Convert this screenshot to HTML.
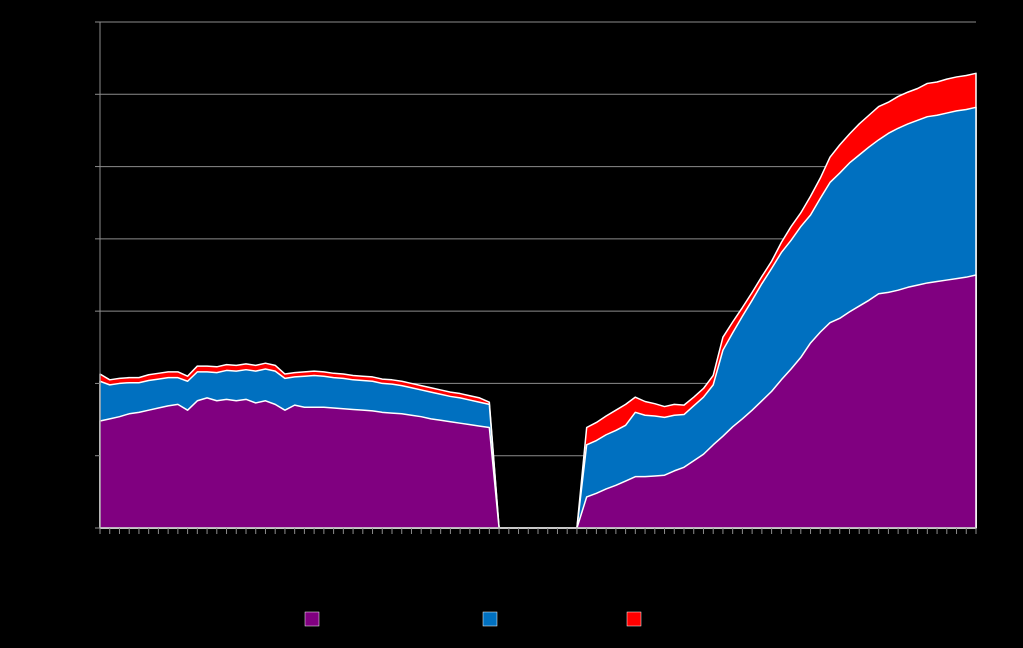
<!DOCTYPE html>
<html><head><meta charset="utf-8"><style>
html,body{margin:0;padding:0;background:#000;}
svg{display:block;font-family:"Liberation Sans",sans-serif;}
</style></head><body>
<svg id="chart" width="1023" height="648" viewBox="0 0 1023 648">
<rect width="1023" height="648" fill="#000"/>
<g id="grid"></g>
<g id="areas"></g>
<g id="axes"></g>
<g id="legend"></g>
</svg>
<script>
const categories = Array.from({length:91},(_,i)=>String(i+1));
const seriesPurple = [148,151,154,158,160,163,166,169,171,163,176,180,176,178,176,178,173,176,171,163,170,167,167,167,166,165,164,163,162,160,159,158,156,154,151,149,147,145,143,141,139,0,0,0,0,0,0,0,0,0,43,48,54,59,65,71,71,72,73,79,84,93,102,115,127,140,151,163,176,189,205,220,236,256,271,284,290,299,307,315,324,326,329,333,336,339,341,343,345,347,350];
const seriesBlue = [55,47,46,43,41,41,40,39,37,40,40,36,39,40,41,41,44,44,46,44,39,43,44,43,42,42,41,41,41,40,40,39,38,37,37,36,35,35,34,33,32,0,0,0,0,0,0,0,0,0,72,73,75,76,77,89,85,83,80,77,73,76,79,83,119,130,142,152,162,170,176,178,181,177,185,194,201,206,209,212,213,220,224,226,228,230,230,231,232,232,232];
const seriesRed = [10,7,7,7,7,8,8,8,8,7,8,8,8,8,8,8,8,8,8,6,6,6,6,6,6,6,6,6,6,6,6,6,6,6,6,6,6,6,6,6,3,0,0,0,0,0,0,0,0,0,24,25,26,28,29,21,19,17,15,15,13,12,12,13,18,15,12,11,10,10,14,19,19,26,28,35,39,40,43,44,46,43,44,44,44,46,46,47,47,47,47];
const yTicks = [0,100,200,300,400,500,600,700];
const seriesNames = ["Series 1","Series 2","Series 3"];
const seriesColors = ["#800080","#0070C0","#FF0000"];

const X0=100,X1=976,Y0=528,Y1=22,YMAX=700;
const NS='http://www.w3.org/2000/svg';
function xs(i){return X0+(X1-X0)*i/(categories.length-1);}
function ys(v){return Y0-(Y0-Y1)*v/YMAX;}
function mk(tag,attrs,parent){const e=document.createElementNS(NS,tag);for(const k in attrs)e.setAttribute(k,attrs[k]);parent.appendChild(e);return e;}

const grid=document.getElementById('grid');
yTicks.forEach(t=>{
  if(t===0)return;
  const l=mk('line',{x1:X0,x2:X1,y1:ys(t),y2:ys(t),stroke:'#8c8c8c','stroke-width':1},grid);
  
  
});

const areas=document.getElementById('areas');
const layers=[seriesPurple,seriesBlue,seriesRed];
const cum=[];
let base=categories.map(()=>0);
layers.forEach(s=>{const top=base.map((b,i)=>b+s[i]);cum.push({base:base,top:top});base=top;});
for(let k=layers.length-1;k>=0;k--){
  const {top}=cum[k];
  let d='M'+xs(0)+','+ys(0);
  top.forEach((v,i)=>{d+=' L'+xs(i).toFixed(2)+','+ys(v).toFixed(2);});
  d+=' L'+xs(categories.length-1)+','+ys(0)+' Z';
  const p=mk('path',{d:d,fill:seriesColors[k],stroke:'#ffffff','stroke-width':1.5,'stroke-linejoin':'round'},areas);
  
  
}

const axes=document.getElementById('axes');
const ya=mk('line',{x1:X0,x2:X0,y1:Y1,y2:Y0,stroke:'#8c8c8c','stroke-width':1},axes);


const xa=mk('line',{x1:X0,x2:X1,y1:Y0,y2:Y0,stroke:'#bfbfbf','stroke-width':1.5},axes);


yTicks.forEach(t=>{
  const tk=mk('line',{x1:X0-5,x2:X0,y1:ys(t),y2:ys(t),stroke:'#8c8c8c','stroke-width':1},axes);
  
  
  const tx=mk('text',{x:X0-8,y:ys(t)+4,'text-anchor':'end','font-size':11,fill:'#000'},axes);
  tx.textContent=String(t);
  
  
});
categories.forEach((c,i)=>{
  const tk=mk('line',{x1:xs(i),x2:xs(i),y1:Y0,y2:Y0+6,stroke:'#8c8c8c','stroke-width':1},axes);
  
  
});

const legend=document.getElementById('legend');
const lx=[305,483,627];
seriesNames.forEach((n,k)=>{
  const r=mk('rect',{x:lx[k],y:612,width:14,height:14,fill:seriesColors[k],stroke:'#fff','stroke-width':0.5},legend);
  
  
  const t=mk('text',{x:lx[k]+20,y:624,'font-size':12,fill:'#000'},legend);
  t.textContent=n;
  
  
});
</script>
</body></html>
